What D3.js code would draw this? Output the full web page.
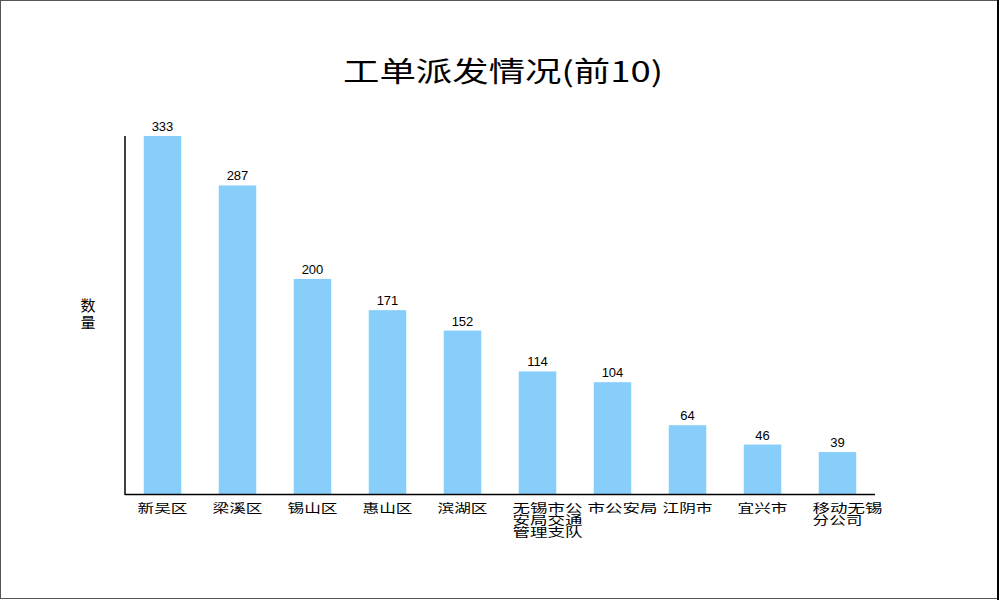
<!DOCTYPE html>
<html>
<head>
<meta charset="utf-8">
<script src="https://cdn.jsdelivr.net/npm/d3@7/dist/d3.min.js"></script>
<style>
  body { margin: 0; background: #fff; }
  text { font-family: "Liberation Sans", "Noto Sans CJK SC", sans-serif; }
</style>
</head>
<body>
<div id="chart"></div>
<script>
// chart data
const categories = ["新吴区", "梁溪区", "锡山区", "惠山区", "滨湖区", "无锡市公安局交通管理支队", "市公安局", "江阴市", "宜兴市", "移动无锡分公司"];
const counts = [333, 287, 200, 171, 152, 114, 104, 64, 46, 39];
const title = "工单派发情况(前10)";
const yLabel = "数量";

const width = 1000, height = 600;
const plotLeft = 125, plotRight = 875, plotTop = 136, plotBottom = 494;

const svg = d3.select("#chart").append("svg")
    .attr("width", width)
    .attr("height", height);

// outer frame
svg.append("rect")
    .attr("x", 0.5).attr("y", 0.5)
    .attr("width", width - 2).attr("height", height - 2)
    .attr("fill", "white")
    .attr("stroke", "#555");
svg.append("line")
    .attr("x1", 998).attr("x2", 998).attr("y1", 0).attr("y2", height)
    .attr("stroke", "#000").attr("stroke-width", 2);

const x = d3.scaleBand()
    .domain(categories)
    .range([plotLeft, plotRight])
    .paddingInner(0.5)
    .paddingOuter(0.25);

const y = d3.scaleLinear()
    .domain([0, d3.max(counts)])
    .range([plotBottom, plotTop]);

const data = categories.map((c, i) => ({ name: c, value: counts[i] }));

// bars
svg.selectAll(".bar")
    .data(data)
    .enter()
    .append("rect")
    .attr("class", "bar")
    .attr("x", d => x(d.name))
    .attr("y", d => y(d.value))
    .attr("width", x.bandwidth())
    .attr("height", d => plotBottom - y(d.value))
    .attr("fill", "#87cefa");

// value labels
svg.selectAll(".val")
    .data(data)
    .enter()
    .append("text")
    .attr("class", "val")
    .attr("x", d => x(d.name) + x.bandwidth() / 2)
    .attr("y", d => y(d.value) - 5)
    .attr("text-anchor", "middle")
    .style("font-size", "13px")
    .style("fill", "#000")
    .text(d => d.value);

// axes lines
svg.append("line")
    .attr("x1", plotLeft).attr("x2", plotLeft)
    .attr("y1", plotTop).attr("y2", plotBottom + 1)
    .attr("stroke", "#000").attr("stroke-width", 1.5);
svg.append("line")
    .attr("x1", plotLeft).attr("x2", plotRight)
    .attr("y1", plotBottom + 0.5).attr("y2", plotBottom + 0.5)
    .attr("stroke", "#000").attr("stroke-width", 1.5);

// category labels, wrapped every 4 characters, left-aligned under the bar
data.forEach(d => {
    const sx = x(d.name) + x.bandwidth() / 2 - 25;
    d.name.match(/.{1,4}/g).forEach((ln, i) => {
        svg.append("text")
            .attr("class", "cat")
            .attr("x", sx)
            .attr("y", 513 + i * 12)
            .attr("textLength", ln.length * 20 - 10)
            .attr("lengthAdjust", "spacingAndGlyphs")
            .style("font-size", "12px")
            .style("font-family", "'Noto Sans CJK SC', sans-serif")
            .style("fill", "#000")
            .text(ln);
    });
});

// y label, vertical stacked
const yl = svg.append("text")
    .attr("text-anchor", "middle")
    .style("font-size", "15px")
    .style("font-family", "'Noto Sans CJK SC', sans-serif");
yLabel.split("").forEach((ch, i) => {
    yl.append("tspan").attr("x", 88).attr("y", 311 + i * 17).text(ch);
});

// title
svg.append("text")
    .attr("x", 343)
    .attr("y", 82)
    .attr("textLength", 320)
    .attr("lengthAdjust", "spacingAndGlyphs")
    .style("font-size", "28px")
    .style("font-family", "'Noto Sans CJK SC', sans-serif")
    .style("fill", "#000")
    .text(title);
</script>
</body>
</html>
